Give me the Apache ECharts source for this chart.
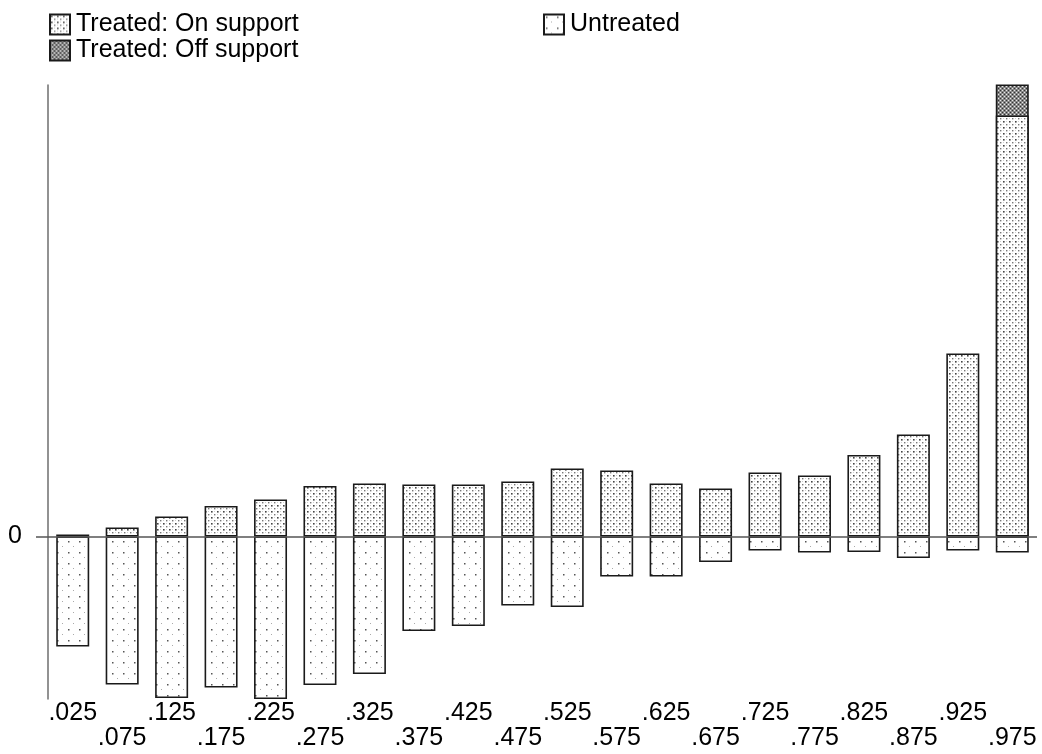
<!DOCTYPE html>
<html>
<head>
<meta charset="utf-8">
<script src="https://cdn.jsdelivr.net/npm/echarts@6/dist/echarts.min.js"></script>
<style>
html,body{margin:0;padding:0;background:#fff;}
#chart{width:1042px;height:754px;}
</style>
</head>
<body>
<div id="chart"></div>
<script>
// ---- data ----
const binCenters = [0.025,0.075,0.125,0.175,0.225,0.275,0.325,0.375,0.425,0.475,0.525,0.575,0.625,0.675,0.725,0.775,0.825,0.875,0.925,0.975];
const tickLabels = ['.025','.075','.125','.175','.225','.275','.325','.375','.425','.475','.525','.575','.625','.675','.725','.775','.825','.875','.925','.975'];
const treatedOn = [2, 9, 20, 30.5, 37, 50.5, 53, 52, 52, 55, 68, 66, 53, 48, 64, 61, 81.5, 102, 183, 421];
const treatedOff = [0, 0, 0, 0, 0, 0, 0, 0, 0, 0, 0, 0, 0, 0, 0, 0, 0, 0, 0, 31];
const untreated = [-110, -148, -161.5, -151, -162.5, -148.5, -137.5, -94.5, -89.5, -69, -70.5, -40, -40, -25.5, -14, -16, -15.5, -21.5, -14, -16];

// off-support sits on top of the on-support part: draw it as the full treated column behind
const treatedTotal = treatedOn.map((v, i) => treatedOff[i] > 0 ? v + treatedOff[i] : null);

// ---- fill patterns ----
function makeTile(size, bg, dots){
  const c = document.createElement('canvas');
  c.width = size; c.height = size;
  const g = c.getContext('2d');
  g.fillStyle = bg; g.fillRect(0,0,size,size);
  dots.forEach(d => { g.fillStyle = d[3]; g.fillRect(d[0], d[1], d[2], d[2]); });
  return c;
}
const onTile = makeTile(6, '#ffffff', [[1,1,1.6,'#444'],[4,4,1.4,'#777'],[4,1,1,'#d0d0d0'],[1,4,1,'#d0d0d0']]);
const offTile = makeTile(4, '#888888', [[0,0,1,'#e8e8e8'],[2,2,1,'#e8e8e8'],[2,0,1,'#333'],[0,2,1,'#333']]);
const unTile = makeTile(11, '#ffffff', [[2,2,1.5,'#555'],[7,7,1,'#aaaaaa']]);

const pair = arr => arr.map((v,i) => [binCenters[i], v]);
const FONT = 'Liberation Sans, Arial, Helvetica, sans-serif';
const FS = 25;
const border = {borderColor:'#1a1a1a', borderWidth:1.6};

const chart = echarts.init(document.getElementById('chart'), null, {renderer:'canvas'});
chart.setOption({
  animation:false,
  backgroundColor:'#ffffff',
  grid:{left:48, right:5, top:85, bottom:55, containLabel:false},
  legend:[
    {data:['Treated: On support','Treated: Off support'], orient:'vertical', left:49, top:12, padding:0,
     icon:'rect', itemWidth:20, itemHeight:20, itemGap:1, selectedMode:false,
     textStyle:{fontFamily:FONT, fontSize:FS, color:'#000', padding:[0,0,0,1]}},
    {data:['Untreated'], orient:'vertical', left:543, top:12, padding:0,
     icon:'rect', itemWidth:20, itemHeight:20, selectedMode:false,
     textStyle:{fontFamily:FONT, fontSize:FS, color:'#000', padding:[0,0,0,1]}}
  ],
  xAxis:{
    type:'value', min:0, max:1,
    axisLine:{show:false}, axisTick:{show:false}, splitLine:{show:false},
    axisLabel:{
      customValues: binCenters,
      margin:2,
      fontFamily:FONT, fontSize:FS, color:'#000', lineHeight:25,
      formatter:function(v){
        let i = binCenters.findIndex(b => Math.abs(b - v) < 1e-6);
        if (i < 0) return '';
        return (i % 2 === 1) ? '\n' + tickLabels[i] : tickLabels[i];
      }
    }
  },
  yAxis:{
    type:'value', min:-162.5, max:451.5,
    axisLine:{show:true, lineStyle:{color:'#6e6e6e', width:1.5}},
    axisTick:{show:true, customValues:[0], length:12, lineStyle:{color:'#555', width:1.5}},
    axisLabel:{show:true, customValues:[0], margin:26, fontFamily:FONT, fontSize:FS, color:'#000',
      formatter:v => (Math.abs(v) < 1e-9 ? '0' : '')},
    splitLine:{show:false}
  },
  series:[
    {name:'Treated: Off support', type:'bar', barWidth:33, barGap:'-100%',
     data: pair(treatedTotal),
     itemStyle:Object.assign({color:{image:offTile, repeat:'repeat'}}, border)},
    {name:'Treated: On support', type:'bar', barWidth:33, barGap:'-100%',
     data: pair(treatedOn),
     itemStyle:Object.assign({color:{image:onTile, repeat:'repeat'}}, border)},
    {name:'Untreated', type:'bar', barWidth:33, barGap:'-100%',
     data: pair(untreated),
     itemStyle:Object.assign({color:{image:unTile, repeat:'repeat'}}, border),
     markLine:{silent:true, symbol:'none', label:{show:false}, z:10,
       lineStyle:{color:'#555', width:1.5, type:'solid'},
       data:[{yAxis:0}]}}
  ]
});
</script>
</body>
</html>
